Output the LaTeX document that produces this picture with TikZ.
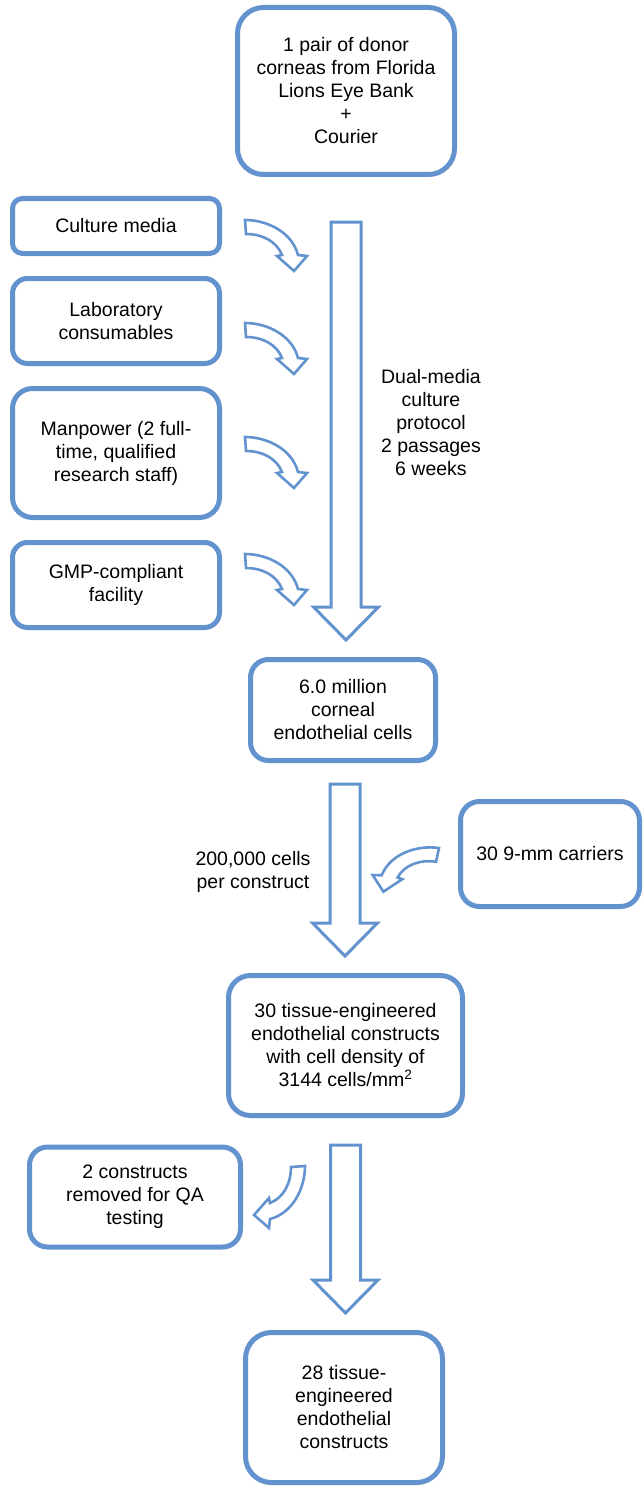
\documentclass[tikz,border=0pt]{standalone}
\usepackage{fontspec}
\setmainfont{Liberation Sans}
\usetikzlibrary{positioning, calc}
\definecolor{FlowBlue}{RGB}{98,147,206}

% hollow block arrow from a start point down to a tip
\newcommand{\flowarrow}[2]{%
  \draw[flowline] let \p1=(#1), \p2=(#2) in
    (\x1-15pt,\y1) -- (\x1-15pt,\y2+33pt) -- (\x1-32.5pt,\y2+33pt) -- (\x1,\y2)
    -- (\x1+32.5pt,\y2+33pt) -- (\x1+15pt,\y2+33pt) -- (\x1+15pt,\y1) -- cycle;}

\begin{document}
\begin{tikzpicture}[
  x=1pt, y=-1pt,
  every node/.style={font=\fontsize{19.5}{23}\selectfont},
  box/.style={draw=FlowBlue, line width=5pt, rounded corners=16pt, fill=white, align=center, inner sep=2pt},
  note/.style={align=center},
  flowline/.style={draw=FlowBlue, line width=3pt, fill=white},
  bendline/.style={draw=FlowBlue, line width=2.6pt, fill=white},
  bentarrow/.pic={
    \draw[bendline] (0,0) .. controls (22,0) and (47,12) .. (53,35) -- (62,36) -- (49,51)
      -- (32,36) -- (37,35) .. controls (32,22) and (18,14) .. (1,14) -- cycle;
  }
]
\useasboundingbox (0,0) rectangle (643,1490);

% Top: donor tissue
\node[box, minimum width=217pt, minimum height=167pt, rounded corners=26pt] (donor) at (346,91)
  {1 pair of donor\\corneas from Florida\\Lions Eye Bank\\+\\Courier};

% Left: culture inputs
\node[box, minimum width=207pt, minimum height=55pt, rounded corners=10pt] (media) at (116,226) {Culture media};
\node[box, minimum width=207pt, minimum height=85pt, rounded corners=15pt] (consum) at (116,321) {Laboratory\\consumables};
\node[box, minimum width=207pt, minimum height=129pt, rounded corners=20pt] (staff) at (116,453) {Manpower (2 full-\\time, qualified\\research staff)};
\node[box, minimum width=207pt, minimum height=85pt, rounded corners=15pt] (facility) at (116,585) {GMP-compliant\\facility};

% Expanded cells
\node[box, minimum width=185pt, minimum height=101pt, rounded corners=18pt] (cells) at (343,710) {6.0 million\\corneal\\endothelial cells};
\node[box, minimum width=179pt, minimum height=105pt, rounded corners=19pt] (carriers) at (550,854) {30 9-mm carriers};

% Constructs
\node[box, minimum width=234pt, minimum height=140pt, rounded corners=22pt] (constructs) at (345.5,1045.5)
  {30 tissue-engineered\\endothelial constructs\\with cell density of\\3144 cells/mm\textsuperscript{2}};
\node[box, minimum width=211pt, minimum height=100pt, rounded corners=18pt] (qa) at (135,1197) {2 constructs\\removed for QA\\testing};
\node[box, minimum width=197pt, minimum height=150pt, rounded corners=26pt] (final) at (344,1407.5)
  {28 tissue-\\engineered\\endothelial\\constructs};

% Labels beside the main flow
\node[note] (protocol) at (431,423) {Dual-media\\culture\\protocol\\2 passages\\6 weeks};
\node[note] (dose) at (253,872) {200,000 cells\\per construct};

% Main flow
\flowarrow{$(donor.south)+(0,45)$}{$(cells.north)+(0,-17)$}
\flowarrow{$(cells.south)+(2,21)$}{$(constructs.north)+(0,-17)$}
\flowarrow{$(constructs.south)+(0,27)$}{$(final.north)+(0,-17)$}

% Side inputs and outputs
\pic at ($(media.east)+(23,-6)$) {bentarrow};
\pic at ($(consum.east)+(23,2)$) {bentarrow};
\pic at ($(staff.east)+(23,-16)$) {bentarrow};
\pic at ($(facility.east)+(23,-31)$) {bentarrow};
\pic[xscale=-1, rotate=8] at ($(carriers.west)+(-19,-6)$) {bentarrow};
\pic[rotate=-90] at ($(qa.east)+(62,-31)$) {bentarrow};

\end{tikzpicture}
\end{document}
